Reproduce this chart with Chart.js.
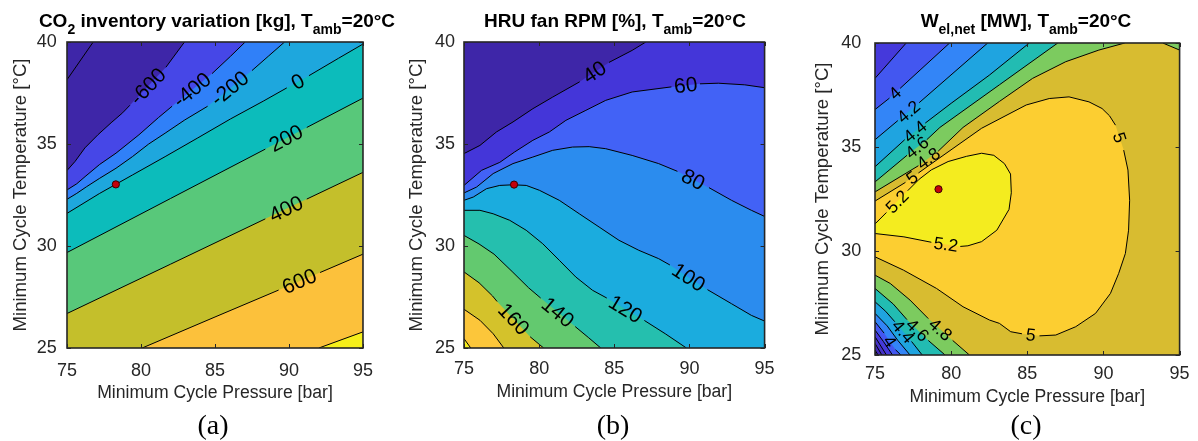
<!DOCTYPE html>
<html><head><meta charset="utf-8">
<script src="https://cdn.jsdelivr.net/npm/chart.js@4.4.1/dist/chart.umd.min.js"></script>
<style>
html,body{margin:0;padding:0;background:#fff;}
body{width:1198px;height:441px;position:relative;overflow:hidden;}
canvas{position:absolute;top:0;}
.ttl{position:absolute;top:10px;width:500px;text-align:center;font:bold 19px/22px "Liberation Sans",Arial,Helvetica,sans-serif;color:#000;white-space:nowrap;}
.ttl sub{font-size:14px;vertical-align:-7px;line-height:0;}
.cap{position:absolute;top:409px;width:100px;text-align:center;font:28px/32px "Liberation Serif","Times New Roman",serif;color:#000;}
</style></head>
<body>
<canvas id="ca" width="385" height="441" style="left:0px"></canvas>
<canvas id="cb" width="385" height="441" style="left:400px"></canvas>
<canvas id="cc" width="398" height="441" style="left:800px"></canvas>
<div class="ttl" style="left:-33px">CO<sub>2</sub> inventory variation [kg], T<sub>amb</sub>=20°C</div>
<div class="ttl" style="left:365px">HRU fan RPM [%], T<sub>amb</sub>=20°C</div>
<div class="ttl" style="left:776px">W<sub>el,net</sub> [MW], T<sub>amb</sub>=20°C</div>
<div class="cap" style="left:163px">(a)</div>
<div class="cap" style="left:563px">(b)</div>
<div class="cap" style="left:976px">(c)</div>
<script>
// ---------------- axes ----------------
const XMIN = 75, XMAX = 95, YMIN = 25, YMAX = 40;
const pressureTicks = [75, 80, 85, 90, 95];
const temperatureTicks = [25, 30, 35, 40];

// ---------------- (a) CO2 inventory variation [kg] ----------------
// contour lines: [pressure (bar), temperature (°C)], null = gap where the level label sits
const aLevels = [-800, -600, -400, -200, 0, 200, 400, 600, 800];
const aC_m800 = [[75,38.15],[76.77,40]];
const aC_m600 = [[75,33.7],[75.55,34.15],[76.21,34.81],[77.1,35.46],[77.98,36.04],[78.76,36.53],[79.25,36.9],null,[81.68,38.76],[82.94,40]];
const aC_m400 = [[75,32.75],[75.66,33.05],[76.22,33.4],[77.21,34.0],[78.31,34.55],[79.86,35.45],[81.19,36.3],[82.1,36.85],null,[84.8,38.45],[86.05,39.3],[87.04,40]];
const aC_m200 = [[75,32.29],[75.66,32.58],[76.33,32.91],[77.21,33.32],[78.31,33.81],[79.42,34.38],[80.52,35.0],[81.63,35.53],[82.96,36.18],[84.5,36.85],null,[87.5,38.6],[88.6,39.3],[89.7,40]];
const aC_0    = [[75,31.6],[77.21,32.58],[79.42,33.48],[81.63,34.38],[83.84,35.3],[86.05,36.23],[88.26,37.1],[89.85,37.75],null,[91.35,38.35],[93.34,39.2],[95,39.9]];
const aC_200  = [[75,29.68],[82,32.33],[88.4,34.75],null,[91.2,35.81],[95,37.25]];
const aC_400  = [[75,26.69],[82,29.11],[88.4,31.33],null,[91.2,32.3],[95,33.61]];
const aC_600  = [[80.08,25],[85,26.52],[89.3,27.84],null,[92.1,28.7],[95,29.6]];
const aC_800  = [[92.02,25],[95,25.79]];
const aDesign = [78.3, 33.02];

// ---------------- (b) HRU fan RPM [%] ----------------
const bLevels = [40, 60, 80, 100, 120, 140, 160, 180, 200];
const bC_40  = [[75,34.53],[76.06,34.93],[77.16,35.59],[78.26,36.08],[79.58,36.73],[80.9,37.3],[82.7,38.05],null,[84.65,39.0],[86.19,39.59],[87.1,40]];
const bC_60  = [[75,32.97],[76.17,33.71],[77.38,34.1],[78.37,34.61],[79.58,35.18],[80.68,35.59],[81.78,36.16],[83.11,36.65],[84.43,37.14],[86.19,37.55],[88.8,37.8],null,[90.7,37.95],[91.92,37.98],[93.68,37.9],[95,37.76]];
const bC_80  = [[75,32.6],[75.84,32.89],[76.94,33.55],[78.26,34.04],[79.58,34.36],[80.9,34.69],[82.22,34.85],[83.33,34.87],[84.43,34.77],[86.19,34.44],[87.95,34.04],[89.2,33.66],null,[91.3,32.86],[92.8,32.24],[94.12,31.75],[95,31.45]];
const bC_100 = [[75,32.24],[75.62,32.4],[76.5,32.81],[77.38,32.97],[78.26,33.0],[79.14,32.97],[80.02,32.73],[81.34,32.24],[82.67,31.58],[83.99,30.93],[85.31,30.28],[86.63,29.79],[87.95,29.38],[88.7,29.07],null,[91.2,27.86],[92.8,27.17],[94.12,26.6],[95,26.32]];
const bC_120 = [[75,31.75],[76.06,31.75],[76.94,31.58],[78.04,31.26],[79.14,30.77],[80.24,30.11],[81.34,29.3],[82.44,28.48],[83.55,27.83],[84.5,27.45],null,[87.0,26.35],[88.39,25.7],[89.8,25]];
const bC_140 = [[75,30.52],[76.0,30.1],[77.0,29.6],[78.2,28.75],[79.3,27.95],[80.1,27.45],null,[82.4,26.05],[83.3,25.5],[84.1,25]];
const bC_160 = [[75,28.73],[76.0,28.2],[76.9,27.55],[77.2,27.28],null,[79.4,25.55],[80.3,25]];
const bC_180 = [[75,26.9],[76.06,26.36],[76.94,25.7],[77.65,25]];
const bC_200 = [[75,25.46],[75.45,25]];
const bDesign = [78.33, 33.01];

// ---------------- (c) W_el,net [MW] ----------------
const cLevels = [3.2, 3.4, 3.6, 3.8, 4.0, 4.2, 4.4, 4.6, 4.8, 5.0, 5.2];
const cC_38u = [[75,38.3],[77.05,40]];
const cC_40u = [[75,36.8],[75.95,37.35],null,[76.65,37.82],[79.9,40]];
const cC_42u = [[75,35.35],[76.5,36.27],null,[77.9,37.13],[82.4,40]];
const cC_44u = [[75,34.05],[76.95,35.35],null,[78.3,36.15],[80.0,37.1],[82.5,38.45],[85.13,40]];
const cC_46u = [[75,33.32],[77.1,34.6],null,[78.4,35.35],[79.26,35.94],[83.17,37.99],[87.0,40]];
const cC_48u = [[75,32.84],[77.85,34.1],null,[79.15,34.8],[80.78,35.94],[83.17,37.19],[85.35,38.3],[87.52,39.1],[89.7,39.66],[91.4,40]];
const cC_48c = [[93.9,40],[95,39.66]];
const cC_50  = [[75,32.4],[77.0,33.3],null,[77.85,33.75],[79.0,34.35],[82.0,35.9],[84.93,37.02],[86.44,37.33],[87.74,37.41],[89.05,37.17],[89.91,36.85],[90.4,36.5],[90.79,36.05],null,[91.33,34.85],[91.61,33.89],[91.72,32.44],[91.65,31.0],[91.44,29.88],[91.0,28.92],[90.46,27.96],[89.48,27.0],[88.18,26.36],[86.87,25.96],[85.8,25.92],null,[84.65,26.02],[83.91,26.12],[83.17,26.52],[82.52,26.68],[80.78,27.32],[79.04,28.2],[76.87,29.08],[75,29.72]];
const cC_52  = [[75,31.3],[75.75,31.85],null,[77.15,32.9],[77.9,33.45],[78.7,33.9],[79.8,34.3],[81.0,34.55],[82.0,34.7],[82.8,34.6],[83.5,34.2],[83.9,33.7],[83.95,32.8],[83.8,32.0],[83.0,31.0],[82.0,30.45],[81.1,30.25],[80.6,30.22],null,[78.7,30.42],[76.9,30.68],[75,30.84]];
const cC_48l = [[81.2,25],[80.1,25.7],null,[78.5,26.75],[77.3,27.64],[76.0,28.44],[75,28.84]];
const cC_46l = [[79.6,25],[78.5,25.7],null,[77.1,26.7],[76.2,27.45],[75,28.2]];
const cC_44l = [[78.1,25],[77.4,25.65],null,[76.3,26.6],[75.7,27.1],[75,27.56]];
const cC_42l = [[77.3,25],[76.5,25.7],[75.8,26.4],[75,27.0]];
const cC_40l = [[76.7,25],[76.35,25.25],null,[75.6,26.05],[75,26.6]];
const cC_38l = [[76.15,25],[75.55,25.65],[75,26.2]];
const cC_36l = [[75.75,25],[75,25.88]];
const cC_34l = [[75.45,25],[75,25.56]];
const cC_32l = [[75.2,25],[75,25.24]];
const cDesign = [79.17, 32.97];

// ---------------- colours (parula bands) ----------------
const aBase = '#3e26a8';
const aColors = ['#3e26a8','#4647e7','#3080f8','#1ea7dd','#0cbcbb','#58c87a','#c4bf2b','#fcc13b','#f6ef1a'];
const bBase = '#3e26a8';
const bColors = ['#4436d9','#4262f6','#2b8cee','#1bacde','#25bfae','#63c96f','#d4c22b','#fcc63a','#f5ee1c'];
const cBase = '#3e26a8';
const cColors = ['#4229b6','#4532c8','#4539db','#4357f0','#3385f7','#1fa4e0','#22bcb2','#7ccb5f','#d8bc30','#fcce31','#f4ec1f'];

// ---------------- helpers ----------------
const CORNER = [[XMIN,YMIN],[XMIN,YMAX],[XMAX,YMAX],[XMAX,YMIN]];
function perim(p){
  const e = 1e-6, x = p[0], y = p[1];
  if (Math.abs(x-XMIN) < e) return (y-YMIN)/(YMAX-YMIN);
  if (Math.abs(y-YMAX) < e) return 1 + (x-XMIN)/(XMAX-XMIN);
  if (Math.abs(x-XMAX) < e) return 2 + (YMAX-y)/(YMAX-YMIN);
  return 3 + (XMAX-x)/(XMAX-XMIN);
}
const mod4 = v => ((v % 4) + 4) % 4;
function walk(sa, sb){
  const d = mod4(sb - sa);
  return [0,1,2,3].map(c => ({c, dist: mod4(c - sa)}))
    .filter(o => o.dist > 1e-9 && o.dist < d)
    .sort((u,v) => u.dist - v.dist).map(o => CORNER[o.c]);
}
function region(list){
  const cl = list.map(p => p.filter(q => q !== null));
  const pts = []; let cur = 0, guard = 0;
  do {
    const pc = cl[cur]; pts.push(...pc);
    const se = perim(pc[pc.length-1]);
    let best = 0, bd = Infinity;
    cl.forEach((q,i) => { const d = mod4(perim(q[0]) - se); if (d < bd) { bd = d; best = i; } });
    pts.push(...walk(se, perim(cl[best][0])));
    cur = best;
  } while (cur !== 0 && ++guard < 20);
  return pts;
}

const FONT = '"Liberation Sans", Arial, Helvetica, sans-serif';
Chart.defaults.font.family = FONT;

function makeChart(P){
  const L = P.layout;
  const ds = [];
  const poly = (pts, col) => ({data: pts.map(p => ({x:p[0], y:p[1]})), fill:'shape', backgroundColor:col,
    borderColor:'rgba(0,0,0,0)', borderWidth:0, pointRadius:0, pointHoverRadius:0, tension:0});
  ds.push(poly(CORNER, P.base));
  P.levels.forEach((lv, i) => {
    const pcs = P.pieces.filter(p => p[0] === lv).map(p => p[1]);
    if (pcs.length) ds.push(poly(region(pcs), P.colors[i]));
  });
  P.pieces.forEach(p => ds.push({data: p[1].map(q => q ? {x:q[0], y:q[1]} : {x:null, y:null}),
    fill:false, borderColor:'#000', borderWidth:1, pointRadius:0, pointHoverRadius:0, tension:0, spanGaps:false}));
  ds.push({data:[{x:P.dot[0], y:P.dot[1]}], showLine:false, fill:false, pointRadius:3.6, pointHoverRadius:3.6,
    pointBackgroundColor:'#c4000b', pointBorderColor:'#3a0000', pointBorderWidth:1});
  ds.forEach((d,i) => { d.order = -i; });

  const decor = {id:'decor', afterDatasetsDraw(chart){
    const {ctx, chartArea:a, scales:{x, y}} = chart;
    ctx.save();
    ctx.font = P.labelSize + 'px ' + FONT;
    ctx.fillStyle = '#000'; ctx.textAlign = 'center'; ctx.textBaseline = 'middle';
    P.pieces.forEach(([lv, pts]) => {
      for (let i = 1; i < pts.length-1; i++) {
        if (pts[i] !== null) continue;
        const p = pts[i-1], q = pts[i+1];
        const ax = x.getPixelForValue(p[0]), ay = y.getPixelForValue(p[1]);
        const bx = x.getPixelForValue(q[0]), by = y.getPixelForValue(q[1]);
        let g = Math.atan2(by-ay, bx-ax);
        if (g > Math.PI/2) g -= Math.PI; else if (g < -Math.PI/2) g += Math.PI;
        ctx.save(); ctx.translate((ax+bx)/2, (ay+by)/2); ctx.rotate(g);
        ctx.fillText(String(lv), 0, 1); ctx.restore();
      }
    });
    ctx.strokeStyle = '#262626'; ctx.lineWidth = 1.6;
    ctx.strokeRect(a.left, a.top, a.right-a.left, a.bottom-a.top);
    ctx.lineWidth = 1; ctx.beginPath();
    pressureTicks.forEach(v => { const px = Math.round(x.getPixelForValue(v)) + 0.5;
      ctx.moveTo(px, a.bottom); ctx.lineTo(px, a.bottom-4); ctx.moveTo(px, a.top); ctx.lineTo(px, a.top+4); });
    temperatureTicks.forEach(v => { const py = Math.round(y.getPixelForValue(v)) + 0.5;
      ctx.moveTo(a.left, py); ctx.lineTo(a.left+4, py); ctx.moveTo(a.right, py); ctx.lineTo(a.right-4, py); });
    ctx.stroke(); ctx.restore();
  }};

  return new Chart(document.getElementById(P.id), {
    type:'line',
    data:{datasets: ds},
    options:{
      responsive:false, animation:false, events:[],
      layout:{padding:{top:L.top, right:L.right, bottom:0, left:0}},
      plugins:{legend:{display:false}, tooltip:{enabled:false}},
      scales:{
        x:{type:'linear', min:XMIN, max:XMAX,
          afterBuildTicks: s => { s.ticks = pressureTicks.map(v => ({value:v})); },
          ticks:{color:'#262626', font:{size:18}, padding:L.xTick, maxRotation:0, autoSkip:false},
          grid:{display:false, drawTicks:false}, border:{display:false},
          title:{display:true, text:'Minimum Cycle Pressure [bar]', color:'#262626', font:{size:17.6}, padding:{top:0, bottom:L.xTitle}},
          afterFit: s => { s.height = L.xH; }},
        y:{type:'linear', min:YMIN, max:YMAX,
          afterBuildTicks: s => { s.ticks = temperatureTicks.map(v => ({value:v})); },
          ticks:{color:'#262626', font:{size:18}, padding:L.yTick, autoSkip:false},
          grid:{display:false, drawTicks:false}, border:{display:false},
          title:{display:true, text:'Minimum Cycle Temperature [°C]', color:'#262626', font:{size:18.6}, padding:{top:L.yTitle, bottom:0}},
          afterFit: s => { s.width = L.yW; }}
      }
    },
    plugins:[decor]
  });
}

makeChart({id:'ca', levels:aLevels, base:aBase, colors:aColors, dot:aDesign, labelSize:21,
  pieces:[[-800,aC_m800],[-600,aC_m600],[-400,aC_m400],[-200,aC_m200],[0,aC_0],[200,aC_200],[400,aC_400],[600,aC_600],[800,aC_800]],
  layout:{yW:67, top:42, right:17, xH:93, xTick:12, yTick:10.3, xTitle:36.8, yTitle:9.5}});
makeChart({id:'cb', levels:bLevels, base:bBase, colors:bColors, dot:bDesign, labelSize:21,
  pieces:[[40,bC_40],[60,bC_60],[80,bC_80],[100,bC_100],[120,bC_120],[140,bC_140],[160,bC_160],[180,bC_180],[200,bC_200]],
  layout:{yW:64, top:42, right:18, xH:93, xTick:10.4, yTick:9, xTitle:37.9, yTitle:6.2}});
makeChart({id:'cc', levels:cLevels, base:cBase, colors:cColors, dot:cDesign, labelSize:17.5,
  pieces:[[3.2,cC_32l],[3.4,cC_34l],[3.6,cC_36l],[3.8,cC_38u],[3.8,cC_38l],[4.0,cC_40u],[4.0,cC_40l],[4.2,cC_42u],[4.2,cC_42l],
          [4.4,cC_44u],[4.4,cC_44l],[4.6,cC_46u],[4.6,cC_46l],[4.8,cC_48u],[4.8,cC_48c],[4.8,cC_48l],[5.0,cC_50],[5.2,cC_52]],
  layout:{yW:75, top:43, right:17, xH:86, xTick:8.4, yTick:13.7, xTitle:32.8, yTitle:12}});
</script>
</body></html>
